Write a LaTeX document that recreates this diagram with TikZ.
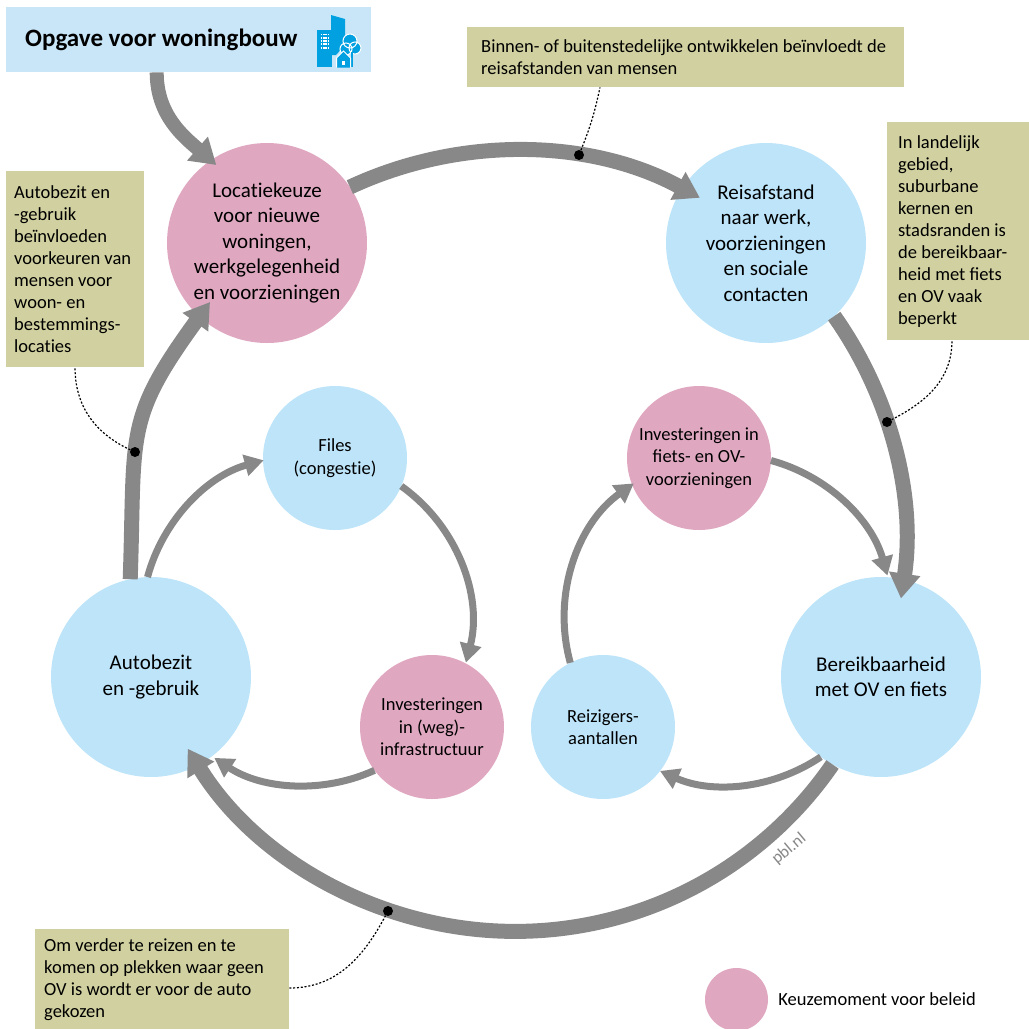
\documentclass[tikz,border=0pt]{standalone}
\usepackage{fontspec}
\setmainfont{Carlito}
\usetikzlibrary{arrows.meta, positioning, calc}

\definecolor{spotpink}{RGB}{224,168,192}
\definecolor{spotblue}{RGB}{189,228,249}
\definecolor{titleblue}{RGB}{200,230,247}
\definecolor{notekhaki}{RGB}{208,208,160}
\definecolor{flowgray}{RGB}{136,136,136}
\definecolor{iconblue}{RGB}{0,160,225}

\tikzset{
	bigspot/.style={circle, minimum size=200pt, inner sep=0pt, outer sep=0pt, align=center, font=\fontsize{21}{25.5}\selectfont},
	smallspot/.style={circle, minimum size=144pt, inner sep=0pt, outer sep=0pt, align=center, font=\fontsize{18.5}{22.5}\selectfont},
	note/.style={fill=notekhaki, anchor=north west, align=flush left, inner ysep=0pt, font=\fontsize{18.5}{22}\selectfont},
	bigflow/.style={draw=flowgray, line width=15pt, -{Triangle[width=30pt, length=25pt]}},
	smallflow/.style={draw=flowgray, line width=7pt, -{Triangle[width=21pt, length=19pt]}},
	leader/.style={line width=1.2pt, dash pattern=on 2pt off 1.8pt},
	pindot/.style={circle, fill=black, minimum size=10pt, inner sep=0pt},
}

\begin{document}
\begin{tikzpicture}[x=1pt, y=1pt]
		\useasboundingbox (0,0) rectangle (1029,-1029);
		%%%%%%%%%%%%%
		\node[fill=titleblue, anchor=north west, text width=327pt, inner xsep=19pt, minimum height=65pt, align=flush left, font=\fontsize{25}{28}\selectfont\bfseries] (title) at (6,-7) {Opgave voor woningbouw};
		% icon
		\fill[iconblue] (331,-15) -- (345,-19) -- (345,-45) -- (336,-55) -- (331,-55) -- cycle;
		\fill[iconblue] (317,-30) rectangle (332,-67);
		\foreach \i in {0,...,3} \foreach \j in {0,...,4}
			\fill[white] (320.6+2.4*\i, -33.5-3.3*\j) rectangle ++(1.6,-1.8);
		\filldraw[iconblue, draw=white, line width=1pt] (350,-41) circle (7) (355,-48) circle (6) (346,-49) circle (6);
		\fill[iconblue] (350.5,-52) rectangle (353,-67);
		\filldraw[iconblue, draw=white, line width=1pt] (336.5,-67.5) -- (336.5,-58) -- (343.5,-51) -- (350.5,-58) -- (350.5,-67.5);
		\fill[white] (342,-61) rectangle (345,-65);
		%%%%%%%%%%%%%
		\node[bigspot, fill=spotpink] (loc) at (267,-243) {Locat\kern0pt iekeuze\\voor nieuwe\\woningen,\\werkgelegenheid\\en voorzieningen};
		\node[bigspot, fill=spotblue] (reis) at (766,-243) {Reisafstand\\naar werk,\\voorzieningen\\en sociale\\contacten};
		\node[bigspot, fill=spotblue] (bereik) at (881,-677) {Bereikbaarheid\\met OV en fiets};
		\node[bigspot, fill=spotblue] (auto) at (151,-677) {Autobezit\\en -gebruik};
		\node[smallspot, fill=spotblue] (files) at (335,-458) {Files\\(congest\kern0pt ie)};
		\node[smallspot, fill=spotpink] (infraweg) at (432,-727) {Investeringen\\in (weg)-\\infrastructuur};
		\node[smallspot, fill=spotpink] (infrafiets) at (699,-458) {Investeringen in\\fiets- en OV-\\voorzieningen};
		\node[smallspot, fill=spotblue] (reizigers) at (603,-727) {Reizigers-\\aantallen};
		%%%%%%%%%%%%%
		\node[note, text width=409pt, inner xsep=14pt, minimum height=60pt] (note1) at (467,-27) {Binnen- of buitenstedelijke ontwikkelen beïnvloedt de\\reisafstanden van mensen};
		\node[note, text width=120pt, inner xsep=11pt, minimum height=218pt] (note2) at (887,-122) {In landelijk\\gebied,\\suburbane\\kernen en\\stadsranden is\\de bereikbaar-\\heid met fiets\\en OV vaak\\beperkt};
		\node[note, text width=122pt, inner xsep=8pt, minimum height=196pt] (note3) at (6,-171) {Autobezit en\\-gebruik\\beïnvloeden\\voorkeuren van\\mensen voor\\woon- en\\bestemmings-\\locat\kern0pt ies};
		\node[note, text width=236pt, inner xsep=9pt, minimum height=101pt] (note4) at (35,-929) {Om verder te reizen en te\\komen op plekken waar geen\\OV is wordt er voor de auto\\gekozen};
		%%%%%%%%%%%%%
		\draw[bigflow, line width=14pt] ([xshift=-32pt]title.south) to[out=-90, in=139] ($(loc)+(123:93)$);
		\draw[bigflow] (loc.34) arc[start angle=115, end angle=61.5, radius=389];
		\draw[bigflow] (reis.313) arc[start angle=35.2, end angle=-8.6, radius=389];
		\draw[bigflow] (bereik.241) arc[start angle=-34.5, end angle=-148.3, radius=385];
		\draw[bigflow] (auto.102) to[out=88, in=234, looseness=1.3] ($(loc)+(226:82)$);
		%%%%%%%%%%%%%
		\draw[smallflow] (auto.92) arc[start angle=164.9, end angle=105.4, radius=166];
		\draw[smallflow] (files.337) arc[start angle=54.6, end angle=-14.4, radius=166];
		\draw[smallflow] (infraweg.217) arc[start angle=-65.5, end angle=-123.4, radius=166];
		\draw[smallflow] (reizigers.117) arc[start angle=195.5, end angle=125.5, radius=166];
		\draw[smallflow] (infrafiets.358) arc[start angle=74.9, end angle=15.8, radius=166];
		\draw[smallflow] (bereik.233) arc[start angle=-55.9, end angle=-114.1, radius=166];
		%%%%%%%%%%%%%
		\node[pindot] (d1) at (579,-155) {};
		\node[pindot] (d2) at (887,-422) {};
		\node[pindot] (d3) at (135,-452) {};
		\node[pindot] (d4) at (388,-911) {};
		\draw[leader] (d1) to[out=68, in=-102] ($(note1.south west)+(133,0)$);
		\draw[leader] (d2) to[out=27, in=-90] ($(note2.south west)+(65,0)$);
		\draw[leader] (d3) to[out=155, in=-90] ($(note3.south west)+(69,0)$);
		\draw[leader] (d4) to[out=-118, in=0] ($(note4.north east)+(0,-59)$);
		%%%%%%%%%%%%%
		\node[rotate=40, text=flowgray, font=\fontsize{17}{17}\selectfont] (pbl) at (789,-849) {pbl.nl};
		\node[circle, fill=spotpink, minimum size=63pt, inner sep=0pt] (legdot) at (736.5,-999.5) {};
		\node[right=10pt of legdot, inner sep=0pt, font=\fontsize{18.5}{22}\selectfont] (legtext) {Keuzemoment voor beleid};
\end{tikzpicture}
\end{document}
